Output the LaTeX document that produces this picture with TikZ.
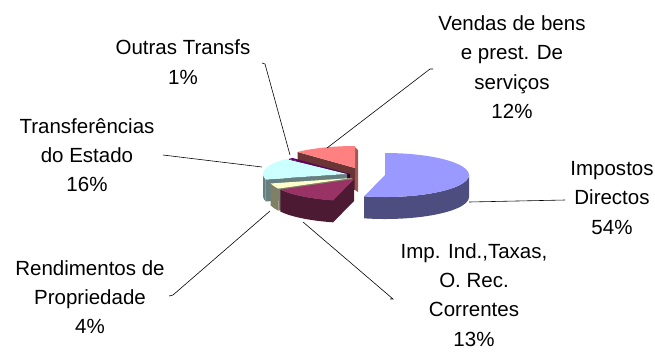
\documentclass[tikz,border=0pt]{standalone}
\usepackage{fontspec}
\setmainfont{Liberation Sans}
\definecolor{impdir}{HTML}{9999FF}
\definecolor{impdirside}{HTML}{4D4D80}
\definecolor{impind}{HTML}{993366}
\definecolor{impindside}{HTML}{4D1A33}
\definecolor{rend}{HTML}{FFFFCC}
\definecolor{rendside}{HTML}{808066}
\definecolor{transf}{HTML}{CCFFFF}
\definecolor{transfside}{HTML}{668080}
\definecolor{outras}{HTML}{660066}
\definecolor{outrasside}{HTML}{330033}
\definecolor{vendas}{HTML}{FF8080}
\definecolor{vendasside}{HTML}{6B3535}
\definecolor{vendasedge}{HTML}{9E5A5A}
\begin{document}
\begin{tikzpicture}[x=0.03cm,y=0.03cm,
  lbl/.style={align=center,inner sep=0pt,font=\fontsize{17.5}{25}\selectfont},
  leader/.style={draw=black,line width=0.5pt}]
\useasboundingbox (0,0) rectangle (655,-352);
\pgfmathsetmacro\rx{84}
\pgfmathsetmacro\ry{22}
\pgfmathsetmacro\dep{22}
\fill[vendasedge] (355,-147) -- (358,-150) -- (358,-192) -- (355,-190) -- cycle;
\foreach \cx/\cy/\a/\b/\sa/\sb/\ctop/\cside in {
  355/-168/90/133.2/0/0/vendas/vendasside,
  350/-174/133.2/136.8/0/0/outras/outrasside,
  347/-174/136.8/194.4/180/194.4/transf/transfside,
  352/-178/194.4/208.8/194.4/208.8/rend/rendside,
  354/-179/208.8/255.6/208.8/255.6/impind/impindside,
  385/-175/-104.4/90/-104.4/0/impdir/impdirside} {
  \fill[\cside] (\cx,\cy) -- ++(\b:{\rx} and {\ry}) -- ++(0,-\dep) -- (\cx,\cy-\dep) -- cycle;
  \ifdim\sa pt<\sb pt
  \fill[\cside] (\cx,\cy) ++(\sa:{\rx} and {\ry}) arc[start angle=\sa,end angle=\sb,x radius=\rx,y radius=\ry] -- ++(0,-\dep) arc[start angle=\sb,end angle=\sa,x radius=\rx,y radius=\ry] -- cycle;
  \fi
  \fill[\ctop] (\cx,\cy) -- ++(\a:{\rx} and {\ry}) arc[start angle=\a,end angle=\b,x radius=\rx,y radius=\ry] -- cycle;
}
\node[lbl] (vendas) at (512,-67) {Vendas de bens\\e prest. De\\serviços\\12\%};
\node[lbl] (outras) at (183,-62) {Outras Transfs\\1\%};
\node[lbl] (transf) at (87,-155) {Transferências\\do Estado\\16\%};
\node[lbl] (rend) at (90,-297) {Rendimentos de\\Propriedade\\4\%};
\node[lbl] (impind) at (474,-295) {Imp. Ind.,Taxas,\\O. Rec.\\Correntes\\13\%};
\node[lbl] (impdir) at (612,-198) {Impostos\\Directos\\54\%};
\coordinate (vendasA) at (433,-69);
\coordinate (vendasB) at (327,-148);
\coordinate (outrasA) at (262,-63);
\coordinate (outrasB) at (290,-155);
\coordinate (transfA) at (163,-155);
\coordinate (transfB) at (262,-167);
\coordinate (rendA) at (169,-296);
\coordinate (rendB) at (270,-211);
\coordinate (impindA) at (390,-299);
\coordinate (impindB) at (303,-222);
\coordinate (impdirA) at (565,-200);
\coordinate (impdirB) at (469,-202);
\draw[leader] (vendasA) -- ++(-3,0) -- (vendasB);
\draw[leader] (outrasA) -- ++(3,-1) -- (outrasB);
\draw[leader] (transfA) -- (transfB);
\draw[leader] (rendA) -- ++(4,1) -- (rendB);
\draw[leader] (impindA) -- ++(3,0) -- (impindB);
\draw[leader] (impdirA) -- (impdirB);
\end{tikzpicture}
\end{document}
